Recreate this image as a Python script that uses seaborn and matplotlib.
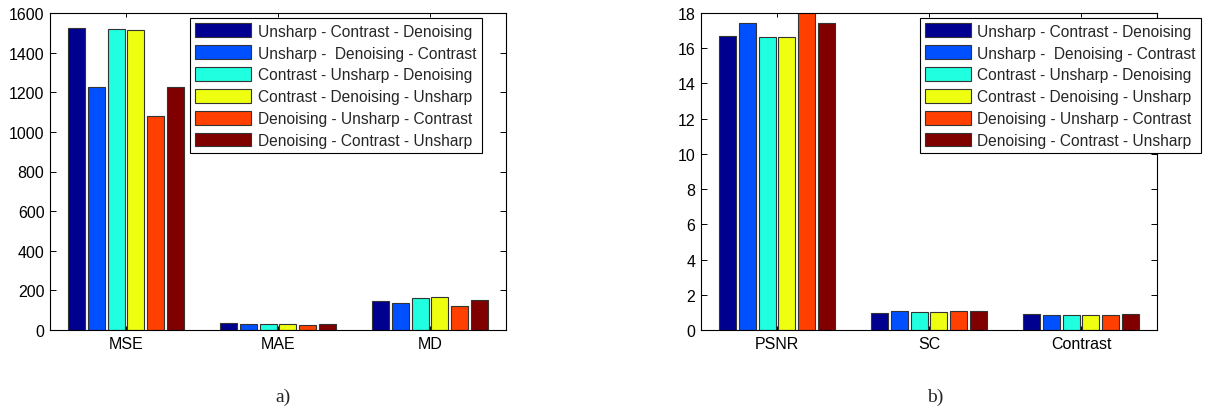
import numpy as np
import pandas as pd
import matplotlib
matplotlib.use("Agg")
import matplotlib.pyplot as plt
import seaborn as sns

methods = ["Unsharp - Contrast - Denoising",
           "Unsharp -  Denoising - Contrast",
           "Contrast - Unsharp - Denoising",
           "Contrast - Denoising - Unsharp",
           "Denoising - Unsharp - Contrast",
           "Denoising - Contrast - Unsharp"]
colors = ["#000090", "#0050FF", "#20FFDF", "#EFFF10", "#FF4000", "#800000"]

metrics_a = ["MSE", "MAE", "MD"]
mse = [1525, 1228, 1520, 1515, 1078, 1228]
mae = [37, 32, 32, 32, 25, 32]
md = [144, 136, 161, 166, 119, 151]

metrics_b = ["PSNR", "SC", "Contrast"]
psnr = [16.72, 17.45, 16.65, 16.65, 18.3, 17.45]
sc = [0.99, 1.10, 1.05, 1.05, 1.10, 1.10]
contrast = [0.89, 0.88, 0.88, 0.86, 0.87, 0.92]

yticks_a = [0, 200, 400, 600, 800, 1000, 1200, 1400, 1600]
yticks_b = [0, 2, 4, 6, 8, 10, 12, 14, 16, 18]


def long_df(metrics, series):
    rows = []
    for m, vals in zip(metrics, series):
        for meth, v in zip(methods, vals):
            rows.append({"metric": m, "method": meth, "value": v})
    return pd.DataFrame(rows)


sns.set_style("white")
plt.rcParams["font.family"] = ["Liberation Sans", "DejaVu Sans"]
plt.rcParams["font.size"] = 11

W, H = 1210, 414
fig = plt.figure(figsize=(W / 100, H / 100), dpi=100)

ax1 = fig.add_axes([50 / W, 83 / H, 456 / W, 317 / H])
ax2 = fig.add_axes([701 / W, 83 / H, 456 / W, 317 / H])


def draw(ax, df, metrics, yticks, leg_x, hl):
    sns.barplot(data=df, x="metric", y="value", hue="method", order=metrics,
                hue_order=methods, palette=colors, width=0.78, gap=0.15,
                edgecolor="#333333", linewidth=0.8, errorbar=None, ax=ax,
                saturation=1)
    ax.set_ylim(yticks[0], yticks[-1])
    ax.set_yticks(yticks)
    ax.set_xlim(-0.5, len(metrics) - 0.5)
    ax.set_xlabel("")
    ax.set_ylabel("")
    for s in ax.spines.values():
        s.set_visible(True)
        s.set_color("black")
        s.set_linewidth(0.8)
    ax.tick_params(axis="both", direction="in", length=4, width=0.7,
                   top=True, right=True, bottom=True, left=True,
                   labelsize=11.5, colors="black", pad=4)
    ax.tick_params(axis="x", length=3)
    leg = ax.legend(loc="upper left", bbox_to_anchor=(leg_x / W, 1 - 19 / H),
                    bbox_transform=fig.transFigure, frameon=True, fancybox=False,
                    framealpha=1, edgecolor="black", fontsize=11.2,
                    handlelength=hl, handleheight=1.0, handletextpad=0.4,
                    labelspacing=0.42, borderpad=0.35, borderaxespad=0)
    leg.get_frame().set_linewidth(0.8)
    leg.set_zorder(10)


df_a = long_df(metrics_a, [mse, mae, md])
df_b = long_df(metrics_b, [psnr, sc, contrast])
draw(ax1, df_a, metrics_a, yticks_a, 190, 3.6)
draw(ax2, df_b, metrics_b, yticks_b, 920, 2.9)

fig.text(283 / W, 1 - 397 / H, "a)", ha="center", va="center", fontsize=14,
         family=["Liberation Serif", "DejaVu Serif"])
fig.text(935 / W, 1 - 397 / H, "b)", ha="center", va="center", fontsize=14,
         family=["Liberation Serif", "DejaVu Serif"])

fig.savefig("out.png", dpi=100)
